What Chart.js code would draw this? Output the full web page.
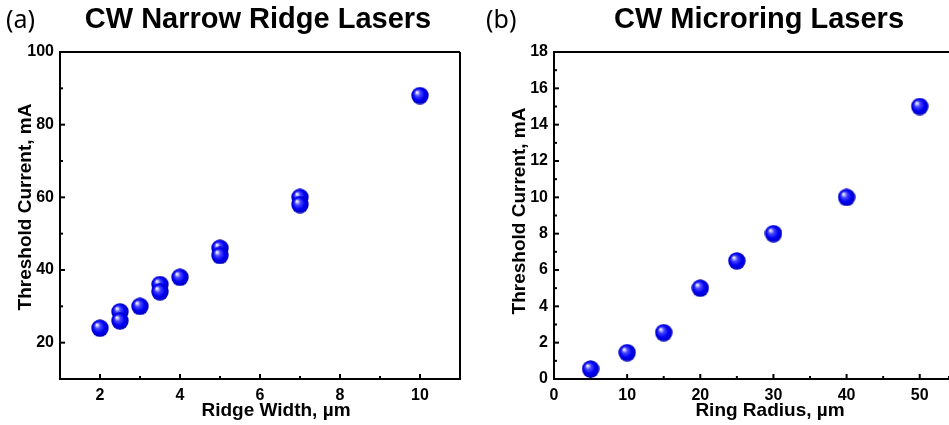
<!DOCTYPE html>
<html>
<head>
<meta charset="utf-8">
<script src="https://cdn.jsdelivr.net/npm/chart.js@4.4.1/dist/chart.umd.min.js"></script>
<style>
  html, body { margin: 0; padding: 0; background: #fff; }
  #wrap { position: relative; width: 949px; height: 425px; overflow: hidden; }
  .painel { position: absolute; top: 0; }
  #painelA { left: 0; }
  #painelB { left: 480px; }
</style>
</head>
<body>
<div id="wrap">
  <div class="painel" id="painelA"><canvas id="graficoRidge" width="480" height="425"></canvas></div>
  <div class="painel" id="painelB"><canvas id="graficoRing" width="469" height="425"></canvas></div>
</div>
<script>
// (a) narrow ridge lasers
const larguraRidge = [2, 2.5, 2.5, 3, 3.5, 3.5, 4, 5, 5, 7, 7, 10]
const correnteRidge = [24, 28.5, 26, 30, 36, 34, 38, 46, 44, 60, 58, 88]
const ticksRidgeX = [2, 4, 6, 8, 10]
const ticksRidgeY = [20, 40, 60, 80, 100]

// (b) microring lasers
const raioRing = [5, 10, 15, 20, 25, 30, 40, 50]
const correnteRing = [0.55, 1.45, 2.55, 5, 6.5, 8, 10, 15]
const ticksRingX = [0, 10, 20, 30, 40, 50]
const ticksRingY = [0, 2, 4, 6, 8, 10, 12, 14, 16, 18]

const fonteEixo = 'Liberation Sans, Arial, sans-serif'

function criaEsfera(r) {
  const c = document.createElement('canvas')
  c.width = c.height = r * 2
  const ctx = c.getContext('2d')
  const g = ctx.createRadialGradient(r * 0.62, r * 0.6, 0, r, r, r)
  g.addColorStop(0, '#ffffff')
  g.addColorStop(0.12, '#d0d0ff')
  g.addColorStop(0.32, '#4848ff')
  g.addColorStop(0.65, '#0000f4')
  g.addColorStop(1, '#0000b8')
  ctx.fillStyle = g
  ctx.beginPath()
  ctx.arc(r, r, r - 0.3, 0, Math.PI * 2)
  ctx.fill()
  return c
}
const esfera = criaEsfera(9)

// inward tick marks + frame
const marcasInternas = {
  id: 'marcasInternas',
  beforeDatasetsDraw(chart, args, opts) {
    const { ctx, chartArea: a } = chart
    const sx = chart.scales.x
    const sy = chart.scales.y
    ctx.save()
    ctx.strokeStyle = '#000'
    ctx.lineWidth = 2
    sx.ticks.forEach(t => {
      const p = sx.getPixelForValue(t.value)
      const len = opts.majorX.includes(t.value) ? 5 : 3
      ctx.beginPath()
      ctx.moveTo(p, a.bottom)
      ctx.lineTo(p, a.bottom - len)
      ctx.stroke()
    })
    sy.ticks.forEach(t => {
      const p = sy.getPixelForValue(t.value)
      const len = opts.majorY.includes(t.value) ? 5 : 3
      ctx.beginPath()
      ctx.moveTo(a.left, p)
      ctx.lineTo(a.left + len, p)
      ctx.stroke()
    })
    ctx.beginPath()
    ctx.moveTo(a.right, a.top)
    ctx.lineTo(a.left, a.top)
    ctx.lineTo(a.left, a.bottom)
    ctx.lineTo(a.right, a.bottom)
    if (opts.bordaDireita) ctx.lineTo(a.right, a.top)
    ctx.stroke()
    ctx.restore()
  }
}

const textos = {
  id: 'textos',
  afterDraw(chart, args, o) {
    const { ctx } = chart
    ctx.save()
    ctx.fillStyle = '#000'
    ctx.textBaseline = 'alphabetic'
    ctx.font = '25px "Noto Sans", sans-serif'
    ctx.textAlign = 'left'
    ctx.fillText(o.letra, o.letraX, 28)
    ctx.font = 'bold 29px ' + fonteEixo
    ctx.textAlign = 'center'
    ctx.fillText(o.titulo, o.tituloX, 28)
    ctx.font = 'bold 19px ' + fonteEixo
    ctx.fillText(o.eixoX, o.eixoXCentro, 416)
    ctx.translate(o.eixoYX, o.eixoYCentro)
    ctx.rotate(-Math.PI / 2)
    ctx.textBaseline = 'middle'
    ctx.fillText(o.eixoY, 0, 0)
    ctx.restore()
  }
}

function montaGrafico(canvas, xs, ys, ex, cfg) {
  const pontos = xs.map((x, i) => ({ x: x, y: ys[i] }))
  return new Chart(canvas, {
    type: 'scatter',
    data: {
      datasets: [{
        data: pontos,
        pointStyle: esfera,
        pointRadius: 9,
        pointHoverRadius: 9,
        clip: false
      }]
    },
    options: {
      responsive: false,
      animation: false,
      devicePixelRatio: 1,
      layout: { autoPadding: false, padding: { top: 52, right: cfg.padDireita, left: 0, bottom: 0 } },
      plugins: {
        legend: { display: false },
        tooltip: { enabled: false },
        marcasInternas: { majorX: ex.majorX, majorY: ex.majorY, bordaDireita: cfg.bordaDireita },
        textos: cfg.textos
      },
      scales: {
        x: {
          type: 'linear',
          min: cfg.xMin, max: cfg.xMax,
          grid: { display: false, drawTicks: false },
          border: { display: false },
          afterFit: s => {
            s.height = 46
            s.paddingLeft = 0
            s.paddingRight = 0
          },
          ticks: {
            stepSize: cfg.xPasso,
            padding: 7,
            autoSkip: false,
            maxRotation: 0,
            color: '#000',
            font: { family: fonteEixo, size: 16, weight: 'bold' },
            callback: v => ex.majorX.includes(v) ? String(v) : ''
          }
        },
        y: {
          type: 'linear',
          min: cfg.yMin, max: cfg.yMax,
          grid: { display: false, drawTicks: false },
          border: { display: false },
          afterFit: s => { s.width = cfg.larguraY },
          ticks: {
            stepSize: cfg.yPasso,
            padding: 6,
            autoSkip: false,
            color: '#000',
            font: { family: fonteEixo, size: 16, weight: 'bold' },
            callback: v => ex.majorY.includes(v) ? String(v) : ''
          }
        }
      }
    },
    plugins: [marcasInternas, textos]
  })
}

const graficoRidge = montaGrafico(document.querySelector('#graficoRidge'),
  larguraRidge, correnteRidge,
  { majorX: ticksRidgeX, majorY: ticksRidgeY },
  {
    xMin: 1, xMax: 11, xPasso: 1,
    yMin: 10, yMax: 100, yPasso: 10,
    larguraY: 60, padDireita: 20, bordaDireita: true,
    textos: {
      letra: '(a)', letraX: 6,
      titulo: 'CW Narrow Ridge Lasers', tituloX: 258,
      eixoX: 'Ridge Width, \u00b5m', eixoXCentro: 276,
      eixoY: 'Threshold Current, mA', eixoYCentro: 207, eixoYX: 26
    }
  })

const graficoRing = montaGrafico(document.querySelector('#graficoRing'),
  raioRing, correnteRing,
  { majorX: ticksRingX, majorY: ticksRingY },
  {
    xMin: 0, xMax: 54, xPasso: 5,
    yMin: 0, yMax: 18, yPasso: 1,
    larguraY: 74, padDireita: 0, bordaDireita: false,
    textos: {
      letra: '(b)', letraX: 6,
      titulo: 'CW Microring Lasers', tituloX: 279,
      eixoX: 'Ring Radius, \u00b5m', eixoXCentro: 290,
      eixoY: 'Threshold Current, mA', eixoYCentro: 211, eixoYX: 40
    }
  })
</script>
</body>
</html>
